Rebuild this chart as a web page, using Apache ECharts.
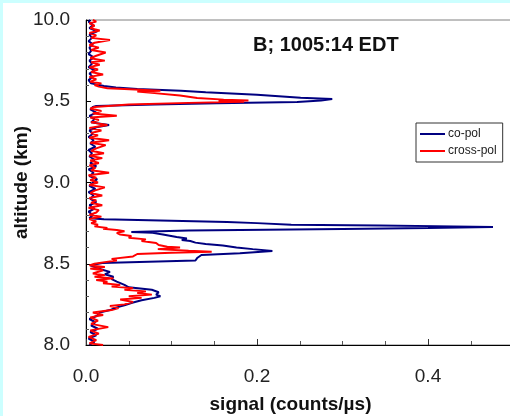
<!DOCTYPE html>
<html><head><meta charset="utf-8">
<script src="https://cdn.jsdelivr.net/npm/echarts@6/dist/echarts.min.js"></script>
<style>html,body{margin:0;padding:0;background:#fff}#c{width:510px;height:416px}</style>
</head><body><div id="c"></div>
<script>
// co-pol profile: altitude (km) and signal (counts/µs)
const coAlt = [8.00,8.02,8.04,8.06,8.08,8.10,8.12,8.14,8.16,8.18,8.20,8.215,8.23,8.245,8.26,8.275,8.29,8.30,8.31,8.325,8.34,8.355,8.37,8.39,8.405,8.42,8.435,8.45,8.465,8.475,8.49,8.495,8.505,8.52,8.535,8.554,8.565,8.578,8.59,8.60,8.612,8.622,8.63,8.64,8.646,8.655,8.665,8.68,8.69,8.695,8.705,8.714,8.72,8.726,8.73,8.735,8.74,8.75,8.757,8.765,8.774,8.78,8.80,8.82,8.84,8.86,8.88,8.90,8.92,8.94,8.96,8.98,9.00,9.02,9.04,9.06,9.08,9.10,9.12,9.14,9.16,9.18,9.20,9.22,9.24,9.26,9.28,9.30,9.32,9.34,9.354,9.37,9.39,9.41,9.43,9.45,9.465,9.471,9.48,9.487,9.495,9.505,9.514,9.522,9.54,9.555,9.565,9.575,9.585,9.594,9.61,9.63,9.65,9.67,9.69,9.71,9.73,9.75,9.77,9.79,9.81,9.83,9.85,9.87,9.89,9.91,9.93,9.95,9.97,9.99,10.00];
const coSig = [0.004,0.010,0.003,0.012,0.005,0.014,0.006,0.011,0.004,0.013,0.016,0.028,0.035,0.045,0.054,0.065,0.080,0.087,0.082,0.085,0.077,0.050,0.045,0.036,0.030,0.032,0.022,0.028,0.018,0.020,0.005,0.004,0.019,0.128,0.130,0.135,0.180,0.218,0.195,0.176,0.160,0.140,0.128,0.122,0.112,0.118,0.106,0.090,0.078,0.053,0.120,0.300,0.400,0.476,0.430,0.343,0.240,0.200,0.165,0.100,0.021,0.004,0.008,0.003,0.010,0.004,0.012,0.005,0.009,0.003,0.011,0.004,0.008,0.013,0.004,0.009,0.003,0.012,0.005,0.010,0.004,0.007,0.003,0.011,0.005,0.009,0.003,0.008,0.004,0.012,0.027,0.006,0.010,0.004,0.012,0.005,0.008,0.012,0.080,0.153,0.247,0.275,0.288,0.251,0.200,0.140,0.111,0.060,0.035,0.021,0.006,0.003,0.008,0.004,0.010,0.003,0.007,0.004,0.009,0.003,0.006,0.004,0.008,0.003,0.007,0.004,0.013,0.004,0.008,0.003,0.005];
// cross-pol profile
const crossAlt = [8.00,8.01,8.03,8.05,8.07,8.09,8.11,8.13,8.15,8.17,8.185,8.20,8.215,8.228,8.24,8.25,8.265,8.28,8.29,8.30,8.31,8.32,8.33,8.34,8.35,8.36,8.37,8.38,8.39,8.40,8.41,8.42,8.43,8.44,8.45,8.46,8.47,8.48,8.49,8.50,8.51,8.52,8.53,8.545,8.56,8.568,8.574,8.58,8.59,8.60,8.605,8.615,8.628,8.64,8.65,8.66,8.671,8.68,8.69,8.70,8.708,8.715,8.72,8.73,8.74,8.75,8.76,8.775,8.79,8.80,8.815,8.83,8.845,8.86,8.875,8.89,8.905,8.92,8.935,8.95,8.97,8.985,9.00,9.015,9.03,9.045,9.06,9.075,9.09,9.105,9.12,9.135,9.15,9.165,9.18,9.195,9.21,9.23,9.245,9.26,9.275,9.29,9.305,9.32,9.335,9.354,9.37,9.385,9.40,9.411,9.425,9.44,9.455,9.465,9.473,9.48,9.49,9.497,9.50,9.505,9.51,9.52,9.535,9.55,9.56,9.565,9.575,9.58,9.59,9.60,9.61,9.62,9.635,9.65,9.665,9.68,9.695,9.71,9.725,9.74,9.75,9.765,9.78,9.80,9.815,9.83,9.845,9.86,9.877,9.89,9.905,9.92,9.935,9.95,9.965,9.98,9.99,10.00];
const crossSig = [0.020,0.004,0.012,0.003,0.015,0.005,0.026,0.006,0.014,0.005,0.020,0.008,0.030,0.038,0.028,0.045,0.055,0.040,0.065,0.050,0.077,0.060,0.070,0.045,0.055,0.030,0.040,0.020,0.025,0.012,0.032,0.010,0.022,0.008,0.006,0.020,0.005,0.022,0.004,0.010,0.022,0.036,0.030,0.055,0.060,0.100,0.147,0.120,0.084,0.110,0.095,0.085,0.082,0.065,0.070,0.050,0.053,0.040,0.036,0.045,0.036,0.020,0.025,0.010,0.014,0.006,0.012,0.004,0.018,0.004,0.012,0.015,0.003,0.019,0.006,0.012,0.004,0.019,0.005,0.010,0.022,0.004,0.014,0.005,0.012,0.003,0.027,0.006,0.011,0.004,0.015,0.005,0.019,0.004,0.021,0.006,0.012,0.023,0.005,0.027,0.004,0.014,0.006,0.018,0.004,0.025,0.006,0.015,0.005,0.036,0.008,0.018,0.005,0.010,0.012,0.050,0.120,0.185,0.155,0.190,0.161,0.130,0.110,0.080,0.060,0.087,0.045,0.025,0.015,0.010,0.018,0.005,0.012,0.004,0.020,0.006,0.014,0.004,0.016,0.006,0.022,0.005,0.012,0.023,0.006,0.015,0.004,0.010,0.028,0.006,0.012,0.004,0.016,0.005,0.010,0.004,0.012,0.008];
const xTicks = [0, 0.2, 0.4];
const yTicks = [8.0, 8.5, 9.0, 9.5, 10.0];

const font = 'Liberation Sans, Arial, sans-serif';
const pairs = (s, a) => s.map((v, i) => [v, a[i]]);
const chart = echarts.init(document.getElementById('c'), null, {renderer: 'canvas'});
chart.setOption({
  animation: false,
  backgroundColor: '#ffffff',
  graphic: [
    {type: 'rect', shape: {x: 0, y: 0, width: 510, height: 3}, style: {fill: '#ccffff'}, silent: true},
    {type: 'rect', shape: {x: 0, y: 0, width: 3, height: 416}, style: {fill: '#ccffff'}, silent: true}
  ],
  title: {
    text: 'B; 1005:14 EDT', left: 253, top: 35, padding: 0,
    textStyle: {fontFamily: font, fontSize: 20, fontWeight: 'bold', color: '#111'}
  },
  legend: {
    orient: 'vertical', left: 416, top: 123, padding: [5, 6, 5, 4], itemGap: 5,
    itemWidth: 25, itemHeight: 2, icon: 'rect',
    borderColor: '#333', borderWidth: 1, backgroundColor: '#fff',
    textStyle: {fontFamily: font, fontSize: 12, color: '#222', padding: [0,0,0,-2]},
    data: ['co-pol', 'cross-pol']
  },
  grid: {left: 86, top: 20, width: 513, height: 325, outerBoundsMode: 'none', containLabel: false,
    show: true, borderColor: '#808080', borderWidth: 1},
  xAxis: {
    type: 'value', min: 0, max: 0.6, interval: 0.2,
    name: 'signal (counts/µs)', nameLocation: 'middle', nameGap: 50, nameMoveOverlap: false,
    nameTextStyle: {fontFamily: font, fontSize: 19, fontWeight: 'bold', color: '#111', padding: [0, 104, 0, 0]},
    axisLine: {show: true, lineStyle: {color: '#000', width: 1}},
    axisTick: {show: true, inside: true, length: 6, lineStyle: {color: '#333'}},
    minorTick: {show: true, splitNumber: 4, length: 4, lineStyle: {color: '#555'}},
    splitLine: {show: false},
    axisLabel: {fontFamily: font, fontSize: 19, color: '#222', margin: 22,
      formatter: v => xTicks.some(t => Math.abs(t - v) < 1e-9) ? v.toFixed(1) : ''}
  },
  yAxis: {
    type: 'value', min: 8, max: 10, interval: 0.5,
    name: 'altitude (km)', nameLocation: 'middle', nameGap: 55, nameRotate: 90, nameMoveOverlap: false,
    nameTextStyle: {fontFamily: font, fontSize: 19, fontWeight: 'bold', color: '#111'},
    axisLine: {show: true, lineStyle: {color: '#000', width: 1}},
    axisTick: {show: true, inside: true, length: 5, lineStyle: {color: '#000'}},
    minorTick: {show: true, splitNumber: 5, length: 3, lineStyle: {color: '#555'}},
    splitLine: {show: false},
    axisLabel: {fontFamily: font, fontSize: 19, color: '#222', margin: 16,
      formatter: v => yTicks.some(t => Math.abs(t - v) < 1e-9) ? v.toFixed(1) : ''}
  },
  series: [
    {name: 'co-pol', type: 'line', data: pairs(coSig, coAlt), showSymbol: false, symbol: 'none',
     lineStyle: {color: '#000080', width: 2}, itemStyle: {color: '#000080'}},
    {name: 'cross-pol', type: 'line', data: pairs(crossSig, crossAlt), showSymbol: false, symbol: 'none',
     lineStyle: {color: '#ff0000', width: 2}, itemStyle: {color: '#ff0000'}}
  ]
});
</script></body></html>
